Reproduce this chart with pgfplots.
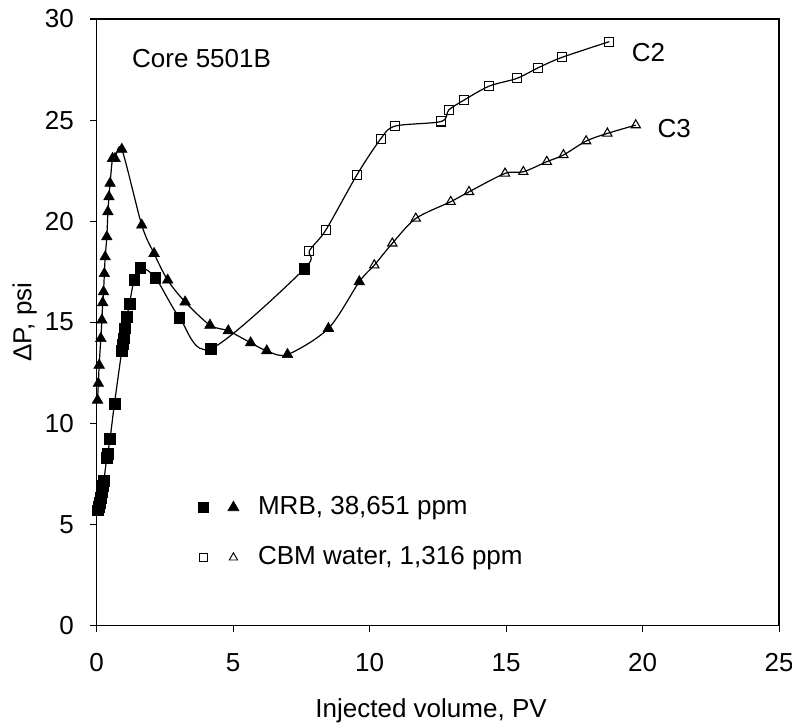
\documentclass[border=0pt]{standalone}
\usepackage{pgfplots}
\pgfplotsset{compat=1.18}
\usepackage{fontspec}
\setmainfont{Liberation Sans}

\pgfplotstableread{
x y
0.05 5.7
0.08 5.85
0.11 6.05
0.14 6.3
0.18 6.6
0.22 6.9
0.26 7.15
0.37 8.3
0.40 8.5
0.49 9.24
0.65 10.97
0.92 13.6
0.96 13.9
1.00 14.2
1.04 14.7
1.10 15.26
1.20 15.9
1.37 17.1
1.59 17.7
2.15 17.2
3.03 15.23
4.18 13.68
7.61 17.64
}\mrbsq

\pgfplotstableread{
x y
7.79 18.53
8.39 19.55
9.53 22.28
10.40 24.06
10.93 24.70
12.62 24.93
12.90 25.50
13.46 25.99
14.38 26.68
15.39 27.06
16.18 27.59
17.04 28.10
18.78 28.88
}\cbmsq

\pgfplotstableread{
x y
0.03 11.14
0.06 11.97
0.09 12.87
0.15 14.19
0.19 15.10
0.22 15.96
0.25 16.50
0.28 17.40
0.31 18.23
0.37 19.22
0.41 20.46
0.45 21.20
0.49 21.87
0.58 23.10
0.67 23.10
0.92 23.55
1.65 19.80
2.10 18.40
2.60 17.08
3.24 16.00
4.15 14.85
4.82 14.57
5.64 13.98
6.23 13.58
6.99 13.40
8.49 14.69
9.62 17.00
}\mrbtri

\pgfplotstableread{
x y
10.17 17.82
10.83 18.90
11.69 20.13
12.97 20.96
13.64 21.45
14.96 22.36
15.63 22.44
16.49 22.94
17.10 23.27
17.93 23.96
18.71 24.34
19.75 24.75
}\cbmtri

\pgfplotstableread{
x y
0.05 5.7
0.08 5.85
0.11 6.05
0.14 6.3
0.18 6.6
0.22 6.9
0.26 7.15
0.37 8.3
0.40 8.5
0.49 9.24
0.65 10.97
0.92 13.6
0.96 13.9
1.00 14.2
1.04 14.7
1.10 15.26
1.20 15.9
1.37 17.1
1.59 17.7
2.15 17.2
3.03 15.23
4.18 13.68
7.61 17.64
7.79 18.53
8.39 19.55
9.53 22.28
10.40 24.06
10.93 24.70
12.62 24.93
12.90 25.50
13.46 25.99
14.38 26.68
15.39 27.06
16.18 27.59
17.04 28.10
18.78 28.88
}\sqline

\pgfplotstableread{
x y
0.03 11.14
0.06 11.97
0.09 12.87
0.15 14.19
0.19 15.10
0.22 15.96
0.25 16.50
0.28 17.40
0.31 18.23
0.37 19.22
0.41 20.46
0.45 21.20
0.49 21.87
0.58 23.10
0.67 23.10
0.92 23.55
1.65 19.80
2.10 18.40
2.60 17.08
3.24 16.00
4.15 14.85
4.82 14.57
5.64 13.98
6.23 13.58
6.99 13.40
8.49 14.69
9.62 17.00
10.17 17.82
10.83 18.90
11.69 20.13
12.97 20.96
13.64 21.45
14.96 22.36
15.63 22.44
16.49 22.94
17.10 23.27
17.93 23.96
18.71 24.34
19.75 24.75
}\triline

\begin{document}
\fontsize{19.5}{23}\selectfont
\begin{tikzpicture}
\begin{axis}[
  scale only axis, width=511.5pt, height=454.5pt,
  xmin=0, xmax=25, ymin=0, ymax=30,
  xtick={0,5,10,15,20,25}, ytick={0,5,10,15,20,25,30},
  xtick pos=bottom, ytick pos=left,
  tick align=outside, major tick length=5pt,
  tick style={black, line width=0.8pt},
  axis line style={line width=1.1pt},
  /pgf/number format/assume math mode=true,
  ticklabel style={font=\fontsize{19.5}{23}\selectfont},
  xticklabel style={yshift=-9.5pt},
  yticklabel style={xshift=-5.5pt},
  xlabel={Injected volume, PV},
  ylabel={ΔP, psi},
  label style={font=\fontsize{19.5}{23}\selectfont},
  xlabel style={at={(axis description cs:0.49,0)}, anchor=center, yshift=-64pt},
  ylabel style={at={(axis description cs:0,0.5)}, anchor=center, yshift=54pt},
  legend style={draw=none, fill=none, at={(axis description cs:0.1427,0.2233)}, anchor=north west,
    font=\fontsize{19.5}{23}\selectfont, row sep=15.5pt,
    nodes={inner sep=2pt, text height=14pt, text depth=4pt}},
  legend cell align=left,
]
\addplot[black, line width=0.9pt, smooth, tension=0.5, forget plot] table[x=x,y=y] {\sqline};
\addplot[black, line width=0.9pt, smooth, tension=0.5, forget plot] table[x=x,y=y] {\triline};
\addplot[only marks, mark=square*, mark size=4pt, black, forget plot] table[x=x,y=y] {\mrbsq};
\addplot[only marks, mark=square, mark size=3.4pt, black, line width=0.8pt, mark options={fill=white}, forget plot] table[x=x,y=y] {\cbmsq};
\addplot[only marks, mark=triangle*, mark size=4.6pt, black, forget plot] table[x=x,y=y] {\mrbtri};
\addplot[only marks, mark=triangle, mark size=4pt, black, line width=0.8pt, mark options={fill=white}, forget plot] table[x=x,y=y] {\cbmtri};

\addlegendimage{legend image code/.code={
  \draw[black, mark=square*, mark size=3.8pt] plot coordinates {(0pt,0pt)};
  \draw[black, mark=triangle*, mark size=4.8pt] plot coordinates {(22.5pt,0pt)};
  \path (38.75pt,0pt);}}
\addlegendentry{MRB, 38,651 ppm}
\addlegendimage{legend image code/.code={
  \draw[black, mark=square, mark size=3pt, line width=0.7pt] plot coordinates {(0pt,0pt)};
  \draw[black, mark=triangle, mark size=3.6pt, line width=0.7pt] plot coordinates {(22.5pt,0pt)};
  \path (38.75pt,0pt);}}
\addlegendentry{CBM water, 1,316 ppm}

\node[anchor=west, inner sep=0pt] at (axis cs:1.29,28.04) {Core 5501B};
\node[anchor=west, inner sep=0pt] at (axis cs:19.6,28.34) {C2};
\node[anchor=west, inner sep=0pt] at (axis cs:20.54,24.59) {C3};
\end{axis}
\pgfresetboundingbox
\path ([shift={(-72.5pt,-75pt)}]current axis.south west) rectangle ([shift={(9.7pt,14.25pt)}]current axis.north east);
\end{tikzpicture}
\end{document}
